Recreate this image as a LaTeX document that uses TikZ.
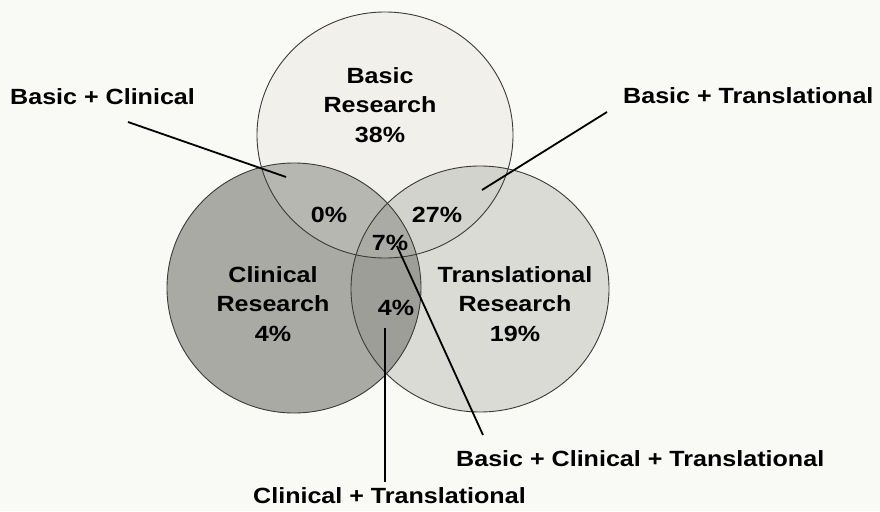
\documentclass[tikz,border=0pt]{standalone}
\usepackage{fontspec}
\setmainfont[FakeStretch=1.14]{Liberation Sans}
\usetikzlibrary{calc}

\definecolor{bgcol}{HTML}{F9F9F6}
\definecolor{basiccol}{HTML}{F1F0EB}
\definecolor{cliniccol}{HTML}{A9AAA3}
\definecolor{transcol}{HTML}{DBDBD6}
\definecolor{bccol}{HTML}{B7B7B1}
\definecolor{btcol}{HTML}{D3D3CE}
\definecolor{ctcol}{HTML}{9E9E99}
\definecolor{bctcol}{HTML}{ABABA5}
\definecolor{rimcol}{HTML}{3A3A3A}

% outlines of the three sets
\newcommand\basicset{(385,135) ellipse [x radius=128, y radius=123]}
\newcommand\clinset{(294,288) ellipse [x radius=127, y radius=125]}
\newcommand\transset{(480,289) ellipse [x radius=129, y radius=123]}

\tikzset{
  rim/.style={draw=rimcol, line width=0.9pt},
  lbl/.style={font=\bfseries\fontsize{22}{29.5}\selectfont, inner sep=0pt, align=center},
  callout/.style={font=\bfseries\fontsize{22}{29.5}\selectfont, inner sep=0pt, anchor=base west},
  leader/.style={draw=black, line width=1.8pt}
}

\begin{document}
\begin{tikzpicture}[x=1pt, y=-1pt]
  \fill[bgcol] (0,0) rectangle (880,511);
  \useasboundingbox (0,0) rectangle (880,511);

  % set fills
  \fill[basiccol] \basicset;
  \fill[cliniccol] \clinset;
  \fill[transcol] \transset;

  % pairwise overlaps
  \begin{scope}
    \clip \basicset;
    \fill[bccol] \clinset;
    \fill[btcol] \transset;
  \end{scope}
  \begin{scope}
    \clip \clinset;
    \fill[ctcol] \transset;
    \clip \transset;
    \fill[bctcol] \basicset;
  \end{scope}

  % outlines
  \draw[rim] \basicset;
  \draw[rim] \clinset;
  \draw[rim] \transset;

  % region texts (base anchor sits on the last line)
  \node[lbl, anchor=base] (basic)  at (380,142) {Basic\\Research\\38\%};
  \node[lbl, anchor=base] (clin)   at (273,341) {Clinical\\Research\\4\%};
  \node[lbl, anchor=base] (trans)  at (515,341) {Translational\\Research\\19\%};
  \node[lbl, anchor=base] (bc)     at (329,222) {0\%};
  \node[lbl, anchor=base] (bt)     at (437,222) {27\%};
  \node[lbl, anchor=base] (bct)    at (390,250) {7\%};
  \node[lbl, anchor=base] (ct)     at (396,315) {4\%};

  % callout texts
  \node[callout] (bcname)  at (10,104)  {Basic + Clinical};
  \node[callout] (btname)  at (623,103) {Basic + Translational};
  \node[callout] (bctname) at (456,466) {Basic + Clinical + Translational};
  \node[callout] (ctname)  at (253,503) {Clinical + Translational};

  % leader ends
  \coordinate (bcfrom)  at (128,122);
  \coordinate (bcto)    at (286,177);
  \coordinate (btfrom)  at (607,112);
  \coordinate (btto)    at (482,190);
  \coordinate (bctfrom) at (483,435);
  \coordinate (bctto)   at (397,246);
  \coordinate (ctfrom)  at (385,482);
  \coordinate (ctto)    at (385,328);

  \draw[leader] (bcfrom) -- (bcto);
  \draw[leader] (btfrom) -- (btto);
  \draw[leader] (bctfrom) -- (bctto);
  \draw[leader] (ctfrom) -- (ctto);
\end{tikzpicture}
\end{document}
